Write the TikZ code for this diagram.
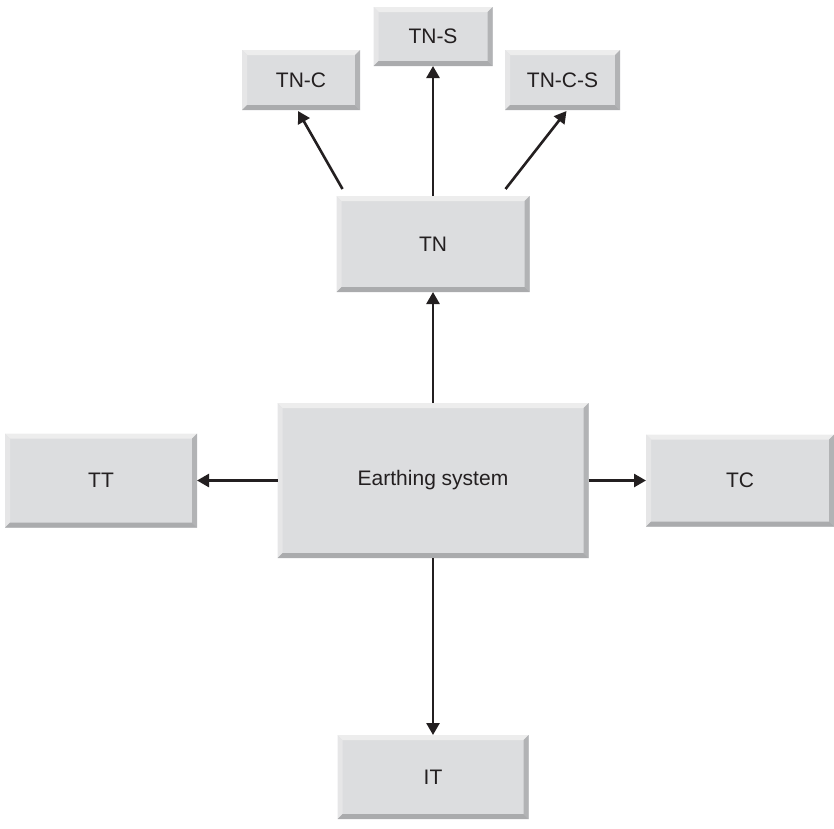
\documentclass[tikz,border=0pt]{standalone}
\usepackage{fontspec}
\setmainfont{Liberation Sans}
\usetikzlibrary{arrows.meta,calc}

\definecolor{boxface}{RGB}{220,221,223}
\definecolor{bvtop}{RGB}{237,237,237}
\definecolor{bvleft}{RGB}{230,230,231}
\definecolor{bvright}{RGB}{178,179,181}
\definecolor{bvbottom}{RGB}{170,171,173}
\definecolor{ink}{RGB}{35,31,32}

\tikzset{
  bevelbox/.style={
    rectangle, inner sep=0pt, outer sep=0pt, fill=boxface,
    font=\fontsize{21}{25}\selectfont, text=ink,
    path picture={
      \coordinate (bbnw) at (path picture bounding box.north west);
      \coordinate (bbne) at (path picture bounding box.north east);
      \coordinate (bbsw) at (path picture bounding box.south west);
      \coordinate (bbse) at (path picture bounding box.south east);
      \fill[bvtop] (bbnw) -- (bbne) -- ([shift={(-5pt,-5pt)}]bbne) -- ([shift={(5pt,-5pt)}]bbnw) -- cycle;
      \fill[bvleft] (bbnw) -- (bbsw) -- ([shift={(5pt,5pt)}]bbsw) -- ([shift={(5pt,-5pt)}]bbnw) -- cycle;
      \fill[bvright] (bbne) -- (bbse) -- ([shift={(-5pt,5pt)}]bbse) -- ([shift={(-5pt,-5pt)}]bbne) -- cycle;
      \fill[bvbottom] (bbsw) -- (bbse) -- ([shift={(-5pt,5pt)}]bbse) -- ([shift={(5pt,5pt)}]bbsw) -- cycle;
    }
  },
  link/.style={draw=ink, line width=2.6pt,
    -{Triangle[length=12pt,width=13pt]}}
}

\begin{document}
\begin{tikzpicture}[x=1pt,y=-1pt]
  \useasboundingbox (0,0) rectangle (834,828);

  % boxes
  \node[bevelbox, minimum width=118pt, minimum height=60pt] (tnc)  at (301,80)    {TN-C};
  \node[bevelbox, minimum width=119pt, minimum height=59pt] (tns)  at (433,36.5)  {TN-S};
  \node[bevelbox, minimum width=115pt, minimum height=60pt] (tncs) at (562.5,80)  {TN-C-S};
  \node[bevelbox, minimum width=193pt, minimum height=96pt] (tn)   at (433,244)   {TN};
  \node[bevelbox, minimum width=311pt, minimum height=155pt] (es)  at (433,480.5) {Earthing system};
  \node[bevelbox, minimum width=192pt, minimum height=94pt] (tt)   at (101,480.5) {TT};
  \node[bevelbox, minimum width=188pt, minimum height=92pt] (tc)   at (740,480.5) {TC};
  \node[bevelbox, minimum width=191pt, minimum height=84pt] (it)   at (433,777)   {IT};

  % feet of the slanted connectors above TN
  \coordinate (tncfoot)  at ($(tn.north west)+(6pt,7pt)$);
  \coordinate (tncsfoot) at ($(tn.north east)+(-24pt,7pt)$);
  \coordinate (tnctip)   at ($(tnc.south)+(-3pt,-1pt)$);
  \coordinate (tncstip)  at ($(tncs.south)+(4pt,-1pt)$);

  % connectors
  \draw[link] (es.north) -- (tn.south);
  \draw[link] (es.west)  -- (tt.east);
  \draw[link] (es.east)  -- (tc.west);
  \draw[link] (es.south) -- (it.north);
  \draw[link] (tn.north) -- (tns.south);
  \draw[link] (tncfoot)  -- (tnctip);
  \draw[link] (tncsfoot) -- (tncstip);
\end{tikzpicture}
\end{document}
